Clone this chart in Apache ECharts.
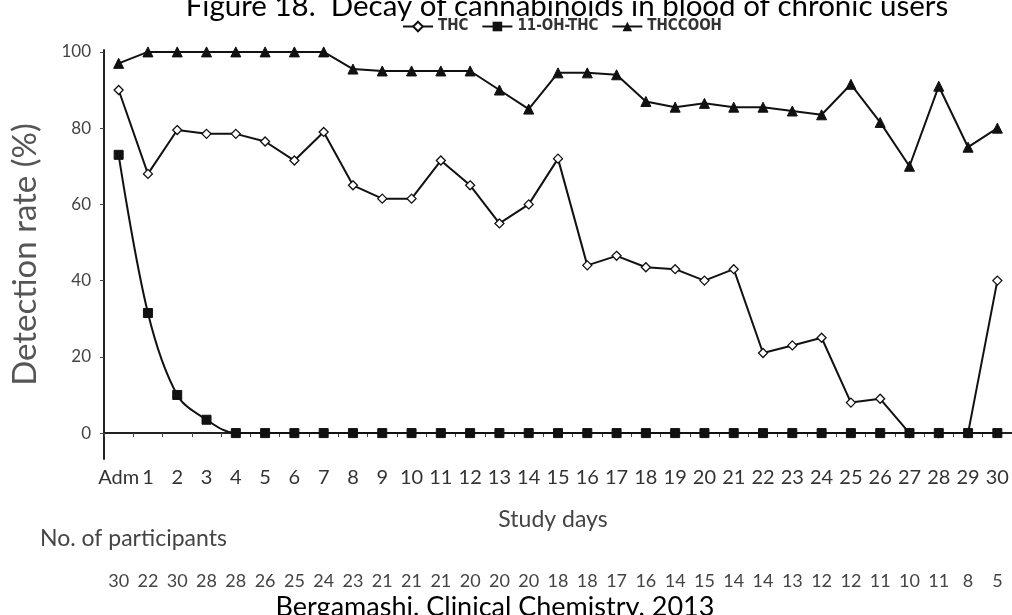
<!DOCTYPE html>
<html>
<head>
<meta charset="utf-8">
<script src="https://cdn.jsdelivr.net/npm/echarts@6/dist/echarts.min.js"></script>
<style>
  html, body { margin: 0; padding: 0; background: #fff; }
  #chart { width: 1012px; height: 615px; }
</style>
</head>
<body>
<div id="chart"></div>
<script>
// Study days (admission + days 1..30)
const days = ['Adm', '1', '2', '3', '4', '5', '6', '7', '8', '9', '10', '11', '12', '13', '14', '15',
  '16', '17', '18', '19', '20', '21', '22', '23', '24', '25', '26', '27', '28', '29', '30'];

// Detection rate (%) per study day
const thc = [90, 68, 79.5, 78.5, 78.5, 76.5, 71.5, 79, 65, 61.5, 61.5, 71.5, 65, 55, 60, 72,
  44, 46.5, 43.5, 43, 40, 43, 21, 23, 25, 8, 9, 0, 0, 0, 40];
const ohThc = [73, 31.5, 10, 3.5, 0, 0, 0, 0, 0, 0, 0, 0, 0, 0, 0, 0,
  0, 0, 0, 0, 0, 0, 0, 0, 0, 0, 0, 0, 0, 0, 0];
const thccooh = [97, 100, 100, 100, 100, 100, 100, 100, 95.5, 95, 95, 95, 95, 90, 85, 94.5,
  94.5, 94, 87, 85.5, 86.5, 85.5, 85.5, 84.5, 83.5, 91.5, 81.5, 70, 91, 75, 80];

// Number of participants sampled on each day
const participants = [30, 22, 30, 28, 28, 26, 25, 24, 23, 21, 21, 21, 20, 20, 20, 18,
  18, 17, 16, 14, 15, 14, 14, 13, 12, 12, 11, 10, 11, 8, 5];

const yTicks = [0, 20, 40, 60, 80, 100];

const NARROW = "'Liberation Sans Narrow', 'DejaVu Sans Condensed', 'Liberation Sans', sans-serif";
const SANS = "Lato, 'Open Sans', sans-serif";
const INK = '#111';

const chart = echarts.init(document.getElementById('chart'), null, { renderer: 'canvas' });

chart.setOption({
  animation: false,
  backgroundColor: '#fff',
  grid: { left: 104, right: 0, top: 50, bottom: 156, containLabel: false },
  legend: {
    left: 397,
    top: 14,
    itemWidth: 30,
    itemHeight: 12,
    itemGap: 13,
    textStyle: { fontFamily: NARROW, fontWeight: 'bold', fontSize: 15, color: '#333' },
    data: ['THC', '11-OH-THC', 'THCCOOH']
  },
  xAxis: [
    {
      type: 'category',
      data: days,
      boundaryGap: true,
      axisLine: { lineStyle: { color: '#222', width: 2 } },
      axisTick: { show: true, length: 4, lineStyle: { color: '#444', width: 1 } },
      axisLabel: { interval: 0, margin: 9, fontFamily: SANS, fontSize: 20, color: '#333' }
    },
    {
      // participant counts, one under each study day
      type: 'category',
      data: days,
      position: 'bottom',
      offset: 105,
      boundaryGap: true,
      axisLine: { show: false },
      axisTick: { show: false },
      axisLabel: {
        interval: 0, margin: 8, fontFamily: SANS, fontSize: 18, color: '#444',
        formatter: (v, i) => String(participants[i])
      }
    }
  ],
  yAxis: {
    type: 'value',
    min: -6.8,
    max: 100.5,
    axisLine: { show: true, lineStyle: { color: '#222', width: 2 } },
    axisTick: { show: true, customValues: yTicks, length: 4, lineStyle: { color: '#444' } },
    axisLabel: { customValues: yTicks, margin: 13, fontFamily: SANS, fontSize: 17, color: '#444' },
    splitLine: { show: false },
    name: 'Detection rate (%)',
    nameLocation: 'middle',
    nameRotate: 90,
    nameGap: 62,
    nameTextStyle: { fontFamily: SANS, fontSize: 33, color: '#555' }
  },
  series: [
    {
      name: 'THC',
      type: 'line',
      data: thc,
      symbol: 'diamond',
      symbolSize: 9,
      itemStyle: { color: '#fff', borderColor: INK, borderWidth: 1.3 },
      lineStyle: { color: INK, width: 2 },
      z: 2
    },
    {
      name: '11-OH-THC',
      type: 'line',
      data: ohThc,
      smooth: 0.35,
      symbol: 'rect',
      symbolSize: 9,
      itemStyle: { color: INK, borderColor: INK },
      lineStyle: { color: INK, width: 2 },
      z: 3
    },
    {
      name: 'THCCOOH',
      type: 'line',
      data: thccooh,
      symbol: 'triangle',
      symbolSize: 10,
      itemStyle: { color: INK, borderColor: INK },
      lineStyle: { color: INK, width: 2 },
      z: 4
    }
  ],
  graphic: [
    {
      type: 'text',
      style: {
        text: 'Figure 18.  Decay of cannabinoids in blood of chronic users',
        x: 567, y: 6, align: 'center', verticalAlign: 'middle',
        font: '29.5px ' + SANS, fill: '#000'
      }
    },
    {
      type: 'text',
      style: {
        text: 'Study days', x: 553, y: 520, align: 'center', verticalAlign: 'middle',
        font: '23px ' + SANS, fill: '#444'
      }
    },
    {
      type: 'text',
      style: {
        text: 'No. of participants', x: 40, y: 539, align: 'left', verticalAlign: 'middle',
        font: '23px ' + SANS, fill: '#444'
      }
    },
    {
      type: 'text',
      style: {
        text: 'Bergamashi. Clinical Chemistry. 2013', x: 495, y: 607, align: 'center', verticalAlign: 'middle',
        font: '27px ' + SANS, fill: '#000'
      }
    }
  ]
});
</script>
</body>
</html>
